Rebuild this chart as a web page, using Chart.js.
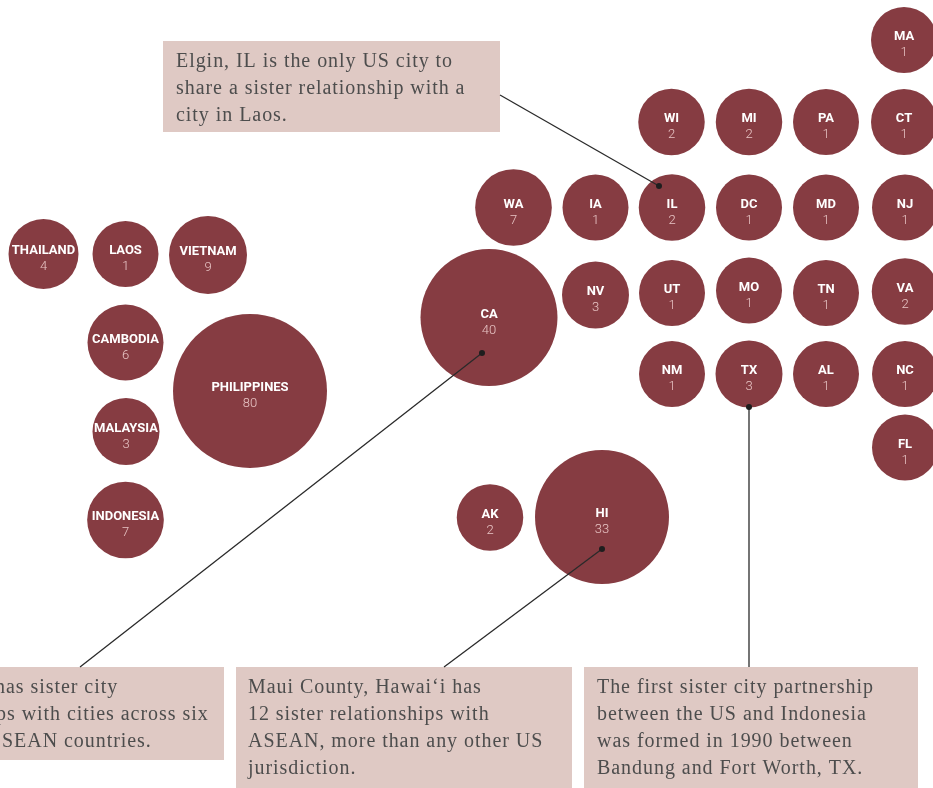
<!DOCTYPE html>
<html lang="en">
<head>
  <meta charset="UTF-8">
  <title>US – ASEAN Sister Cities</title>
  <script src="https://cdn.jsdelivr.net/npm/chart.js"></script>
  <style>
    html, body {
      margin: 0;
      padding: 0;
      background: #fff;
      overflow: hidden;
    }
    .chart-wrapper {
      width: 933px;
      height: 788px;
      position: relative;
    }
  </style>
</head>
<body>
  <div class="chart-wrapper">
    <canvas id="sisterChart"></canvas>
  </div>
  <script>
    // ASEAN countries: sister relationships with US cities
    const aseanNames  = ['THAILAND', 'LAOS', 'VIETNAM', 'CAMBODIA', 'PHILIPPINES', 'MALAYSIA', 'INDONESIA'];
    const aseanCounts = [4, 1, 9, 6, 80, 3, 7];

    // US states: sister relationships with ASEAN cities
    const stateNames  = ['MA', 'WI', 'MI', 'PA', 'CT', 'WA', 'IA', 'IL', 'DC', 'MD', 'NJ', 'CA',
                         'NV', 'UT', 'MO', 'TN', 'VA', 'NM', 'TX', 'AL', 'NC', 'FL', 'AK', 'HI'];
    const stateCounts = [1, 2, 2, 1, 1, 7, 1, 2, 1, 1, 1, 40,
                         3, 1, 1, 1, 2, 1, 3, 1, 1, 1, 2, 33];

    // packed layout (x / y on a 933 x 788 grid)
    const aseanLayoutX = [43.5, 125.5, 208, 125.5, 250, 126, 125.5];
    const aseanLayoutY = [254, 254, 255, 342.5, 391, 431.5, 520];
    const stateLayoutX = [904, 671.5, 749, 826, 904, 513.5, 595.5, 672, 749, 826, 905, 489,
                          595.5, 672, 749, 826, 905, 672, 749, 826, 905, 905, 490, 602];
    const stateLayoutY = [40, 122, 122, 122, 122, 207.5, 207.5, 207.5, 207.5, 207.5, 207.5, 317.5,
                          295, 293, 290.5, 293, 291.5, 374, 374, 374, 374, 447.5, 517.5, 517];

    // bubble radius scale (count -> px), piecewise linear
    const radiusDomain = [1, 3, 6, 9, 33, 80];
    const radiusRange  = [33, 33.5, 38, 39, 67, 77];
    function radiusScale(v) {
      for (let i = 1; i < radiusDomain.length; i++) {
        if (v <= radiusDomain[i]) {
          const t = (v - radiusDomain[i - 1]) / (radiusDomain[i] - radiusDomain[i - 1]);
          return radiusRange[i - 1] + t * (radiusRange[i] - radiusRange[i - 1]);
        }
      }
      return radiusRange[radiusRange.length - 1];
    }

    const BUBBLE = '#863c42';
    const NOTE_BG = '#dfc9c4';
    const NOTE_TEXT = '#4d4d4d';

    function toPoints(names, counts, xs, ys) {
      return names.map((n, i) => ({ x: xs[i], y: ys[i], r: radiusScale(counts[i]), name: n, count: counts[i] }));
    }

    // callout boxes and their leader lines
    const notes = [
      {
        box: [163, 41, 500, 132], textX: 176,
        lines: [['Elgin, IL is the only US city to', 0], ['share a sister relationship with a', 0], ['city in Laos.', 0]],
        from: [500, 95], target: 'IL', offset: [-13, -21.5]
      },
      {
        box: [-10, 667, 224, 760], textX: 0,
        lines: [['has sister city', -5], ['ps with cities across six', -4], ['SEAN countries.', 2]],
        from: [80, 667], target: 'CA', offset: [-7, 35.5]
      },
      {
        box: [236, 667, 572, 800], textX: 248,
        lines: [['Maui County, Hawai\u2018i has', 0], ['12 sister relationships with', 0], ['ASEAN, more than any other US', 0], ['jurisdiction.', 0]],
        from: [444, 667], target: 'HI', offset: [0, 32]
      },
      {
        box: [584, 667, 918, 800], textX: 597,
        lines: [['The first sister city partnership', 0], ['between the US and Indonesia', 0], ['was formed in 1990 between', 0], ['Bandung and Fort Worth, TX.', 0]],
        from: [749, 667], target: 'TX', offset: [0, 33]
      }
    ];

    const bubbleLabels = {
      id: 'bubbleLabels',
      afterDatasetsDraw(chart) {
        const ctx = chart.ctx;
        ctx.save();
        ctx.textAlign = 'center';
        ctx.textBaseline = 'middle';
        chart.data.datasets.forEach((ds, di) => {
          chart.getDatasetMeta(di).data.forEach((el, i) => {
            const p = ds.data[i];
            ctx.fillStyle = '#ffffff';
            ctx.font = 'bold 13px Roboto';
            ctx.fillText(p.name, el.x, el.y - 3);
            ctx.fillStyle = '#e8c5c5';
            ctx.font = '300 13px Roboto';
            ctx.fillText(String(p.count), el.x, el.y + 13);
          });
        });
        ctx.restore();
      }
    };

    const callouts = {
      id: 'callouts',
      afterDraw(chart) {
        const ctx = chart.ctx;
        const sx = chart.scales.x, sy = chart.scales.y;
        ctx.save();
        notes.forEach(n => {
          const [x0, y0, x1, y1] = n.box;
          ctx.fillStyle = NOTE_BG;
          ctx.fillRect(x0, y0, x1 - x0, y1 - y0);
          ctx.fillStyle = NOTE_TEXT;
          ctx.font = '20px "Liberation Serif"';
          ctx.letterSpacing = '0.95px';
          ctx.textAlign = 'left';
          ctx.textBaseline = 'alphabetic';
          n.lines.forEach(([txt, dx], i) => {
            ctx.fillText(txt, n.textX + dx, y0 + 26 + i * 27);
          });
          ctx.letterSpacing = '0px';

          const si = stateNames.indexOf(n.target);
          const tx = sx.getPixelForValue(stateLayoutX[si]) + n.offset[0];
          const ty = sy.getPixelForValue(stateLayoutY[si]) + n.offset[1];
          ctx.strokeStyle = '#2a2a2a';
          ctx.lineWidth = 1.3;
          ctx.beginPath();
          ctx.moveTo(n.from[0], n.from[1]);
          ctx.lineTo(tx, ty);
          ctx.stroke();
          ctx.fillStyle = '#1e1e1e';
          ctx.beginPath();
          ctx.arc(tx, ty, 3, 0, Math.PI * 2);
          ctx.fill();
        });
        ctx.restore();
      }
    };

    new Chart(document.getElementById('sisterChart'), {
      type: 'bubble',
      data: {
        datasets: [
          {
            label: 'ASEAN',
            data: toPoints(aseanNames, aseanCounts, aseanLayoutX, aseanLayoutY),
            backgroundColor: BUBBLE,
            borderWidth: 0,
            clip: false
          },
          {
            label: 'US',
            data: toPoints(stateNames, stateCounts, stateLayoutX, stateLayoutY),
            backgroundColor: BUBBLE,
            borderWidth: 0,
            clip: false
          }
        ]
      },
      options: {
        responsive: true,
        maintainAspectRatio: false,
        animation: false,
        events: [],
        layout: { padding: 0, autoPadding: false },
        plugins: {
          legend: { display: false },
          tooltip: { enabled: false }
        },
        scales: {
          x: { type: 'linear', min: 0, max: 933, display: false },
          y: { type: 'linear', min: 0, max: 788, reverse: true, display: false }
        }
      },
      plugins: [bubbleLabels, callouts]
    });
  </script>
</body>
</html>
